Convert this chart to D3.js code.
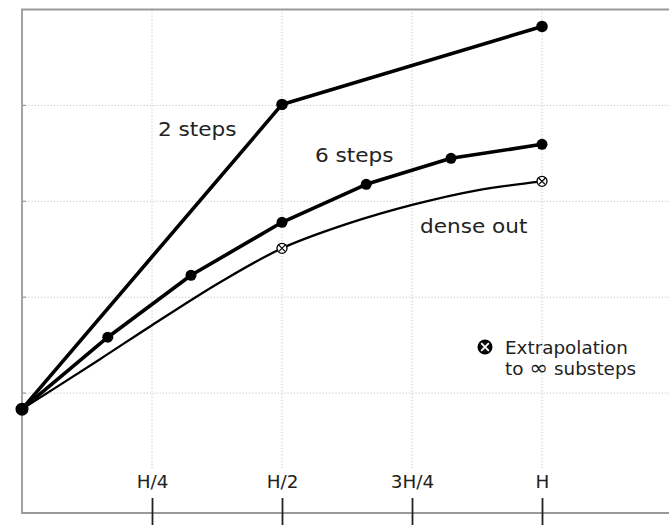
<!DOCTYPE html>
<html>
<head>
<meta charset="utf-8">
<script src="https://cdn.jsdelivr.net/npm/d3@7"></script>
<style>
  html, body { margin: 0; padding: 0; background: #fff; }
  svg { display: block; }
  text { font-family: "DejaVu Sans", sans-serif; fill: #222; }
</style>
</head>
<body>
<svg id="chart" width="669" height="525"></svg>
<script>
// Integration time as a fraction of the step H, and solution value.
const tickFracs  = [0.25, 0.5, 0.75, 1];
const tickLabels = ["H/4", "H/2", "3H/4", "H"];
const gridValues = [1, 2, 3, 4];

const twoStepT = [0, 0.5, 1];
const twoStepY = [0.833, 4.01, 4.823];

const sixStepT = [0, 0.165, 0.325, 0.5, 0.662, 0.825, 1];
const sixStepY = [0.833, 1.583, 2.229, 2.781, 3.177, 3.448, 3.594];

const denseT = [0, 0.15, 0.25, 0.381, 0.5, 0.625, 0.752, 0.875, 1];
const denseY = [0.833, 1.354, 1.708, 2.156, 2.510, 2.764, 2.965, 3.115, 3.208];

// points on the dense-output curve that carry the extrapolation marker
const extrapT = [0.5, 1];
const extrapY = [2.510, 3.208];

const svg = d3.select("#chart");
const plotL = 22, plotT = 9.5, plotB = 513, plotR = 669;

const x = d3.scaleLinear().domain([0, 1]).range([plotL, 542]);
const y = d3.scaleLinear().domain([-0.25, 5]).range([plotB, plotT]);

// dotted grid
svg.append("g").selectAll("line").data(tickFracs).join("line")
  .attr("x1", d => x(d)).attr("x2", d => x(d))
  .attr("y1", plotT).attr("y2", 470)
  .attr("stroke", "#c4c4c4").attr("stroke-width", 1)
  .attr("stroke-dasharray", "1.2,2");
svg.append("g").selectAll("line").data(gridValues).join("line")
  .attr("x1", plotL).attr("x2", plotR)
  .attr("y1", d => y(d)).attr("y2", d => y(d))
  .attr("stroke", "#c4c4c4").attr("stroke-width", 1)
  .attr("stroke-dasharray", "1.2,2");
// short ticks on the left frame
svg.append("g").selectAll("line").data(gridValues).join("line")
  .attr("x1", plotL).attr("x2", plotL + 4)
  .attr("y1", d => y(d)).attr("y2", d => y(d))
  .attr("stroke", "#999").attr("stroke-width", 1.2);

// frame (open on the right)
svg.append("path")
  .attr("d", `M${plotR},${plotT}H${plotL}V${plotB}H${plotR}`)
  .attr("fill", "none").attr("stroke", "#9a9a9a").attr("stroke-width", 1.8);

// bottom axis: ticks crossing the frame, labels above them
const xAxis = d3.axisBottom(x).tickValues(tickFracs)
  .tickFormat((d, i) => tickLabels[i]).tickSize(27);
const axisG = svg.append("g").attr("transform", "translate(0,498)").call(xAxis);
axisG.select(".domain").remove();
axisG.selectAll(".tick line").attr("stroke", "#222").attr("stroke-width", 1.8);
axisG.selectAll(".tick text")
  .attr("y", -10).attr("dy", 0)
  .attr("transform", "scale(1.08,1)")
  .style("font-size", "17px").style("font-family", "DejaVu Sans, sans-serif")
  .attr("fill", "#222");

// series
const line = d3.line().x(d => x(d[0])).y(d => y(d[1]));
const smooth = d3.line().x(d => x(d[0])).y(d => y(d[1])).curve(d3.curveCatmullRom.alpha(0.5));
const zip = (a, b) => a.map((v, i) => [v, b[i]]);

svg.append("path").datum(zip(denseT, denseY)).attr("d", smooth)
  .attr("fill", "none").attr("stroke", "#000").attr("stroke-width", 2.3);
svg.append("path").datum(zip(sixStepT, sixStepY)).attr("d", line)
  .attr("fill", "none").attr("stroke", "#000").attr("stroke-width", 3.6).attr("stroke-linejoin", "round");
svg.append("path").datum(zip(twoStepT, twoStepY)).attr("d", line)
  .attr("fill", "none").attr("stroke", "#000").attr("stroke-width", 3.6).attr("stroke-linejoin", "round");

svg.append("g").selectAll("circle").data(zip(sixStepT, sixStepY).slice(1)).join("circle")
  .attr("cx", d => x(d[0])).attr("cy", d => y(d[1])).attr("r", 5.5).attr("fill", "#000");
svg.append("g").selectAll("circle").data(zip(twoStepT, twoStepY).slice(1)).join("circle")
  .attr("cx", d => x(d[0])).attr("cy", d => y(d[1])).attr("r", 5.8).attr("fill", "#000");
svg.append("circle").attr("cx", x(twoStepT[0])).attr("cy", y(twoStepY[0])).attr("r", 6.5).attr("fill", "#000");

// circled-cross marker
function otimes(g, cx, cy, r, sw) {
  const m = g.append("g").attr("transform", `translate(${cx},${cy})`);
  m.append("circle").attr("r", r).attr("fill", "#fff").attr("stroke", "#000").attr("stroke-width", sw);
  const k = r * 0.62;
  m.append("path").attr("d", `M${-k},${-k}L${k},${k}M${-k},${k}L${k},${-k}`)
    .attr("stroke", "#000").attr("stroke-width", sw * 0.9);
  return m;
}
zip(extrapT, extrapY).forEach(d => otimes(svg, x(d[0]), y(d[1]), 5, 1.3));

// labels
function label(txt, tx, ty, size) {
  return svg.append("text").attr("transform", `translate(${tx},${ty}) scale(1.08,1)`)
    .style("font-size", size + "px").text(txt);
}
label("2 steps", 158, 136, 20);
label("6 steps", 315, 162, 20);
label("dense out", 420, 233, 20);

// key
const key = otimes(svg, 485, 347, 6.2, 2.6);
key.select("circle").attr("fill", "#111");
key.select("path").attr("stroke", "#fff").attr("stroke-width", 1.8);
label("Extrapolation", 505, 354, 17);
const keyLine2 = label("to ", 505, 375, 17);
keyLine2.append("tspan").style("font-size", "21px").text("\u221e");
keyLine2.append("tspan").text(" substeps");
</script>
</body>
</html>
